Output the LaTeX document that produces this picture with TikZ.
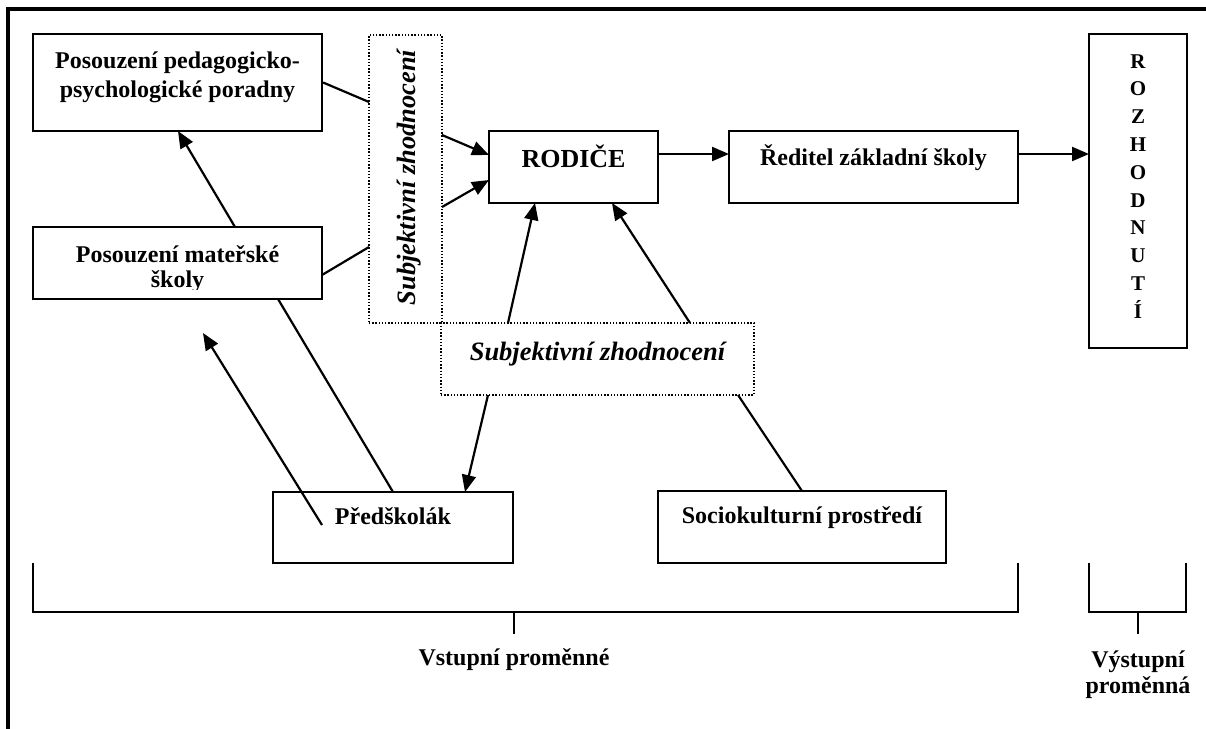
\documentclass[tikz,border=0pt]{standalone}
\usepackage{fontspec}
\setmainfont{Liberation Serif}
\usetikzlibrary{arrows.meta}
\begin{document}
\begin{tikzpicture}[x=1pt,y=-1pt,
  box/.style={draw,line width=2.2pt,rectangle,inner sep=0pt},
  dotbox/.style={draw,line width=1.5pt,dash pattern=on 1.4pt off 1.8pt,rectangle,inner sep=0pt},
  lbl/.style={anchor=base,inner sep=0pt,font=\bfseries\fontsize{24}{29}\selectfont},
  big/.style={anchor=base,inner sep=0pt,font=\bfseries\fontsize{26}{30}\selectfont},
  ital/.style={anchor=base,inner sep=0pt,font=\bfseries\itshape\fontsize{26.5}{30}\selectfont},
  letter/.style={anchor=base,inner sep=0pt,font=\bfseries\fontsize{21}{24}\selectfont},
  con/.style={line width=2.2pt},
  arr/.style={line width=2.2pt,-{Triangle[length=17pt,width=14pt]}},
  brk/.style={line width=1.8pt}]
\useasboundingbox (0,0) rectangle (1206,728);
% frame
\draw[line width=3.2pt] (1212,9) -- (8,9) -- (8,734);

% boxes
\node[box,minimum width=289pt,minimum height=97pt] (PPP) at (177.5,82.5) {};
\node[box,minimum width=289pt,minimum height=72pt] (MS) at (177.5,263) {};
\node[dotbox,minimum width=73pt,minimum height=288pt] (vbox) at (405.5,179) {};
\node[dotbox,minimum width=313pt,minimum height=72pt] (hbox) at (597.5,359) {};
\node[box,minimum width=169pt,minimum height=72pt] (ROD) at (573.5,167) {};
\node[box,minimum width=289pt,minimum height=72pt] (RED) at (873.5,167) {};
\node[box,minimum width=98pt,minimum height=314pt,line width=2.8pt] (ROZ) at (1138,191) {};
\node[box,minimum width=240pt,minimum height=71pt] (PRE) at (393,527.5) {};
\node[box,minimum width=288pt,minimum height=72pt] (SOC) at (802,527) {};

% texts
\node[lbl] (tPPP1) at (177.5,68) {Posouzení pedagogicko-};
\node[lbl] (tPPP2) at (177.5,97) {psychologické poradny};
\node[lbl] (tMS1) at (177.5,262) {Posouzení mateřské};
\begin{scope}
\clip (33,227) rectangle (322,289);
\node[lbl] (tMS2) at (177.5,287) {školy};
\end{scope}
\node[ital,rotate=90] (tV) at (415,177.5) {Subjektivní zhodnocení};
\node[ital] (tH) at (597.5,360) {Subjektivní zhodnocení};
\node[big] (tROD) at (573.5,167) {RODIČE};
\node[lbl] (tRED) at (873.5,165) {Ředitel základní školy};
\node[lbl] (tPRE) at (393,524) {Předškolák};
\node[lbl] (tSOC) at (802,523) {Sociokulturní prostředí};
\foreach \l [count=\i from 0] in {R,O,Z,H,O,D,N,U,T,Í}{
  \node[letter] (tZ\i) at (1138,68+\i*27.8) {\l};
}
\node[lbl] (tIn) at (514,665) {Vstupní proměnné};
\node[lbl] (tOut1) at (1138,667) {Výstupní};
\node[lbl] (tOut2) at (1138,693) {proměnná};

% connector points
\coordinate (a1) at (369,102);
\coordinate (a2) at (442,135);
\coordinate (a3) at (489,155);
\coordinate (b0) at (322,275);
\coordinate (b1) at (369,247);
\coordinate (b2) at (442,207);
\coordinate (b3) at (489,180);
\coordinate (c0) at (235,227);
\coordinate (c1) at (178,131);
\coordinate (d0) at (322,525);
\coordinate (d1) at (203,333);
\coordinate (e0) at (278,299);
\coordinate (e1) at (393,492);
\coordinate (f0) at (488,395);
\coordinate (f1) at (465,492);
\coordinate (g0) at (508,323);
\coordinate (g1) at (535,203);
\coordinate (h0) at (690,323);
\coordinate (h1) at (612,203);
\coordinate (k0) at (802,491);
\coordinate (k1) at (738,395);
\coordinate (m0) at (658,154);
\coordinate (m1) at (729,154);
\coordinate (n0) at (1018,154);
\coordinate (n1) at (1089,154);

% connectors
\draw[con] (PPP.east) -- (a1);
\draw[arr] (a2) -- (a3);
\draw[con] (b0) -- (b1);
\draw[arr] (b2) -- (b3);
\draw[arr] (c0) -- (c1);
\draw[arr] (d0) -- (d1);
\draw[con] (e0) -- (e1);
\draw[arr] (f0) -- (f1);
\draw[arr] (g0) -- (g1);
\draw[arr] (h0) -- (h1);
\draw[con] (k0) -- (k1);
\draw[arr] (m0) -- (m1);
\draw[arr] (n0) -- (n1);

% brackets
\coordinate (p1) at (33,563);
\coordinate (p2) at (1018,563);
\coordinate (p3) at (514,612);
\coordinate (p4) at (514,634);
\draw[brk] (p1) -- (33,612) -- (1018,612) -- (p2);
\draw[brk] (p3) -- (p4);
\coordinate (q1) at (1089,563);
\coordinate (q2) at (1186,563);
\coordinate (q3) at (1138,612);
\coordinate (q4) at (1138,634);
\draw[brk] (q1) -- (1089,612) -- (1186,612) -- (q2);
\draw[brk] (q3) -- (q4);
\end{tikzpicture}
\end{document}
